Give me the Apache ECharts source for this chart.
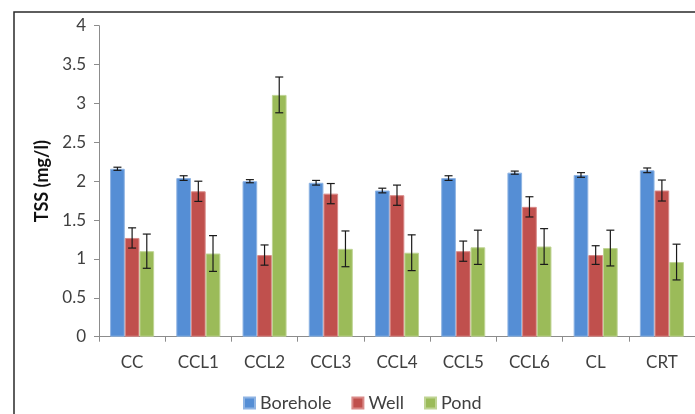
<!DOCTYPE html>
<html><head><meta charset="utf-8">
<script src="https://cdn.jsdelivr.net/npm/echarts@6/dist/echarts.min.js"></script>
<style>html,body{margin:0;padding:0;background:#fff}#c{width:695px;height:414px}</style>
</head><body><div id="c"></div>
<script>
var categories = ['CC','CCL1','CCL2','CCL3','CCL4','CCL5','CCL6','CL','CRT'];
var borehole = [2.16, 2.04, 2.00, 1.98, 1.88, 2.04, 2.11, 2.08, 2.14];
var boreholeErr = [0.02, 0.03, 0.02, 0.03, 0.03, 0.03, 0.02, 0.03, 0.03];
var well = [1.27, 1.87, 1.05, 1.84, 1.82, 1.10, 1.67, 1.05, 1.88];
var wellErr = [0.13, 0.13, 0.13, 0.13, 0.13, 0.13, 0.13, 0.12, 0.135];
var pond = [1.10, 1.07, 3.11, 1.13, 1.08, 1.15, 1.16, 1.14, 0.96];
var pondErr = [0.22, 0.23, 0.23, 0.23, 0.23, 0.22, 0.23, 0.23, 0.23];
var yTicks = [0, 0.5, 1, 1.5, 2, 2.5, 3, 3.5, 4];

var CAT_GAP = 0.335;
var FONT = 'Lato, "Open Sans", sans-serif';

function errSeries(vals, errs, idx) {
  var data = vals.map(function (v, i) { return [i, v, errs[i]]; });
  return {
    type: 'custom',
    z: 10,
    silent: true,
    renderItem: function (params, api) {
      var i = api.value(0), v = api.value(1), e = api.value(2);
      var band = api.size([1, 0])[0];
      var bw = band * (1 - CAT_GAP) / 3;
      var c = api.coord([i, v]);
      var x = c[0] + (idx - 1) * bw;
      var hi = api.coord([i, v + e])[1];
      var lo = api.coord([i, v - e])[1];
      var cap = 4;
      var st = { stroke: '#1a1a1a', lineWidth: 1.2 };
      return { type: 'group', children: [
        { type: 'line', shape: { x1: x, y1: hi, x2: x, y2: lo }, style: st },
        { type: 'line', shape: { x1: x - cap, y1: hi, x2: x + cap, y2: hi }, style: st },
        { type: 'line', shape: { x1: x - cap, y1: lo, x2: x + cap, y2: lo }, style: st }
      ]};
    },
    data: data
  };
}

var chart = echarts.init(document.getElementById('c'));
chart.setOption({
  animation: false,
  textStyle: { fontFamily: FONT },
  graphic: [{
    type: 'rect', shape: { x: 14, y: 12, width: 700, height: 420 },
    style: { fill: 'none', stroke: '#2a2a2a', lineWidth: 1.5 }, z: -1
  }],
  grid: { left: 99, right: -1, top: 25.7, bottom: 77.3, containLabel: false },
  legend: {
    left: 238, top: 389, itemWidth: 11, itemHeight: 11, itemGap: 20,
    icon: 'rect',
    textStyle: { color: '#404040', fontSize: 18, fontFamily: FONT },
    data: ['Borehole', 'Well', 'Pond']
  },
  xAxis: {
    type: 'category', data: categories,
    axisLine: { lineStyle: { color: '#8c8c8c', width: 1 } },
    axisTick: { show: true, length: 5, lineStyle: { color: '#8c8c8c' } },
    axisLabel: { color: '#404040', fontSize: 17, margin: 17, fontFamily: FONT }
  },
  yAxis: {
    type: 'value', min: 0, max: 4, interval: 0.5,
    name: 'TSS (mg/l)', nameLocation: 'middle', nameGap: 48,
    nameTextStyle: { color: '#111', fontSize: 18, fontWeight: 'bold', fontFamily: FONT },
    axisLine: { show: true, lineStyle: { color: '#8c8c8c', width: 1 } },
    axisTick: { show: true, length: 5, lineStyle: { color: '#8c8c8c' } },
    splitLine: { show: false },
    axisLabel: { color: '#404040', fontSize: 17, margin: 13, fontFamily: FONT,
      formatter: function (v) { return yTicks.indexOf(v) >= 0 ? String(v) : ''; } }
  },
  series: [
    { name: 'Borehole', type: 'bar', data: borehole, barGap: '0%', barCategoryGap: (CAT_GAP * 100) + '%',
      itemStyle: { color: '#558ED5', borderColor: '#8fb4e3', borderWidth: 1 } },
    { name: 'Well', type: 'bar', data: well, barGap: '0%', barCategoryGap: (CAT_GAP * 100) + '%',
      itemStyle: { color: '#C0504D', borderColor: '#d98a88', borderWidth: 1 } },
    { name: 'Pond', type: 'bar', data: pond, barGap: '0%', barCategoryGap: (CAT_GAP * 100) + '%',
      itemStyle: { color: '#9BBB59', borderColor: '#bfd494', borderWidth: 1 } },
    errSeries(borehole, boreholeErr, 0),
    errSeries(well, wellErr, 1),
    errSeries(pond, pondErr, 2)
  ]
});
</script></body></html>
